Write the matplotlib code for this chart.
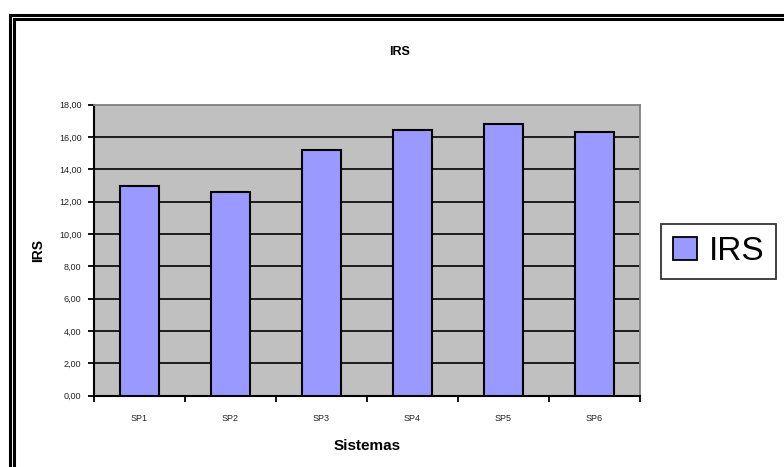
import matplotlib
matplotlib.use("Agg")
import matplotlib.pyplot as plt
from matplotlib.patches import Patch
from matplotlib.lines import Line2D

categories = ["SP1", "SP2", "SP3", "SP4", "SP5", "SP6"]
irs_values = [12.95, 12.58, 15.18, 16.41, 16.78, 16.29]
ytick_values = [0, 2, 4, 6, 8, 10, 12, 14, 16, 18]
ytick_labels = ["0,00", "2,00", "4,00", "6,00", "8,00", "10,00", "12,00", "14,00", "16,00", "18,00"]

plt.rcParams['font.family'] = ['Liberation Sans', 'DejaVu Sans']

W, H = 784, 467
fig = plt.figure(figsize=(W / 100, H / 100), dpi=100)
fig.patch.set_facecolor("white")

def fx(px):
    return px / W

def fy(py):
    return 1 - py / H

# double border (extends beyond right/bottom edges)
for x0, y0 in [(9.7, 14.7), (13.7, 18.7)]:
    fig.add_artist(Line2D([fx(x0), fx(x0)], [fy(y0), fy(H + 20)], color="black", lw=2.2, transform=fig.transFigure))
    fig.add_artist(Line2D([fx(x0), fx(W + 20)], [fy(y0), fy(y0)], color="black", lw=2.2, transform=fig.transFigure))

left, right, top, bottom = 94, 640, 104.6, 395.7
ax = fig.add_axes([fx(left), fy(bottom), fx(right - left), (bottom - top) / H])
ax.set_facecolor("#C0C0C0")

x = list(range(len(categories)))
ax.bar(x, irs_values, width=0.42, color="#9999FF", edgecolor="black", linewidth=1.5, zorder=3,
       label="IRS")

ax.set_xlim(-0.5, len(categories) - 0.5)
ax.set_ylim(0, 18)

# gridlines
for v in ytick_values[1:-1]:
    ax.axhline(v, color="black", lw=1.2, zorder=1)

ax.set_yticks(ytick_values)
ax.set_yticklabels(ytick_labels, fontsize=6.5, color="#222222")
ax.tick_params(axis="y", direction="out", length=4, width=1.3, pad=5)

ax.set_xticks([i - 0.5 for i in range(len(categories) + 1)])
ax.set_xticklabels([])
ax.tick_params(axis="x", which="major", direction="out", length=4, width=1.3)
ax.set_xticks(x, minor=True)
ax.set_xticklabels(categories, minor=True, fontsize=6.5, color="#222222")
ax.tick_params(axis="x", which="minor", length=0, pad=13)

for s in ["top", "right"]:
    ax.spines[s].set_color("#808080")
    ax.spines[s].set_linewidth(1.3)
for s in ["left", "bottom"]:
    ax.spines[s].set_color("black")
    ax.spines[s].set_linewidth(1.5)

ax.set_xlabel("Sistemas", fontsize=11, fontweight="bold", labelpad=12)
ax.set_ylabel("IRS", fontsize=10, fontweight="bold", labelpad=10)

fig.text(fx(400), fy(52), "IRS", fontsize=9, fontweight="bold", ha="center", va="center")

handle = Patch(facecolor="#9999FF", edgecolor="black", linewidth=1.3)
leg = fig.legend([handle], ["IRS"], loc="center", bbox_to_anchor=(fx(718.5), fy(251.5)),
                 fontsize=24, frameon=True, fancybox=False, handlelength=0.72, handleheight=0.7,
                 handletextpad=0.35, borderpad=0.35, borderaxespad=0)
leg.get_frame().set_edgecolor("black")
leg.get_frame().set_linewidth(1.3)

fig.savefig("out.png", dpi=100)
